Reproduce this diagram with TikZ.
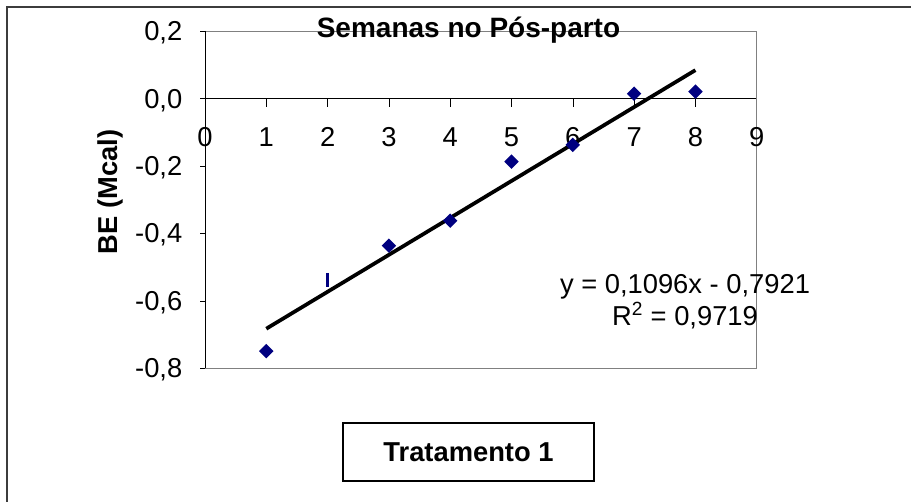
\documentclass[tikz,border=0pt]{standalone}
\usepackage{fontspec}
\setmainfont{Liberation Sans}
\usetikzlibrary{shapes.geometric}
\definecolor{colorMarker}{RGB}{0,0,128}
\definecolor{colorFrame}{RGB}{60,60,60}
\definecolor{colorPlotarea}{RGB}{128,128,128}
\newcommand\chartFont{\fontsize{20.5}{24}\selectfont}
\newcommand\xOrigin{205}
\newcommand\yOrigin{98.7}
\newcommand\xStep{61.3}
\newcommand\yStep{337}
\newcommand\plotRight{756}
\newcommand\plotTop{31}
\newcommand\plotBottom{368}
\newcommand\drawTicks{
	\foreach \i in {1,...,8}{
		\draw ({\xOrigin+\i*\xStep},\yOrigin) to ({\xOrigin+\i*\xStep},107);
	}
	\foreach \v in {0.2,0,-0.2,-0.4,-0.6,-0.8}{
		\draw (200,{\yOrigin-\v*\yStep}) to (\xOrigin,{\yOrigin-\v*\yStep});
	}
}

\begin{document}
\begin{tikzpicture}[x=0.75pt,y=-0.75pt,
		every node/.style={font=\chartFont},
		point/.style={diamond,fill=colorMarker,inner sep=0pt,minimum size=11pt}]
	\useasboundingbox (0,0) rectangle (911,502);

	\draw[color=colorFrame, line width=1.5pt] (7,502) to (7,7) to (911,7);
	\draw[color=colorPlotarea] (\xOrigin,\plotTop) -- (\plotRight,\plotTop) -- (\plotRight,\plotBottom) -- (\xOrigin,\plotBottom);
	\draw (\xOrigin,\plotTop) to (\xOrigin,\plotBottom);
	\draw (\xOrigin,\yOrigin) to (\plotRight,\yOrigin);
	\drawTicks

	\foreach \i in {0,...,9}{
		\node[anchor=base] (xlabel\i) at ({\xOrigin+\i*\xStep},146.5) {\i};
	}
	\foreach \v/\t in {0.2/{0,2},0/{0,0},-0.2/{-0,2},-0.4/{-0,4},-0.6/{-0,6},-0.8/{-0,8}}{
		\node[anchor=base east] (ylabel) at (187,{\yOrigin-\v*\yStep+9.5}) {\t};
	}
	\node[rotate=90] (ytitle) at (110,192) {\textbf{BE (Mcal)}};
	\node[anchor=base, font=\fontsize{21}{24}\selectfont] (title) at (468.5,37.5) {\textbf{Semanas no Pós-parto}};

	\coordinate (fitA) at ({\xOrigin+1*\xStep},{\yOrigin+0.6825*\yStep});
	\coordinate (fitB) at ({\xOrigin+8*\xStep},{\yOrigin-0.0847*\yStep});
	\draw[line width=2.8pt] (fitA) to (fitB);

	\foreach \i/\v in {1/-0.749,3/-0.436,4/-0.362,5/-0.187,6/-0.137,7/0.015,8/0.021}{
		\node[point] (p\i) at ({\xOrigin+\i*\xStep},{\yOrigin-\v*\yStep}) {};
	}
	\draw[color=colorMarker, line width=2.2pt] ({\xOrigin+2*\xStep},273) to ({\xOrigin+2*\xStep},287);

	\node[align=center] (equation) at (685,302) {y = 0,1096x - 0,7921\\R\textsuperscript{2} = 0,9719};
	\node[draw, line width=1.1pt, minimum width=188pt, minimum height=43.5pt] (legend) at (468.5,452) {\textbf{Tratamento 1}};
\end{tikzpicture}
\end{document}
